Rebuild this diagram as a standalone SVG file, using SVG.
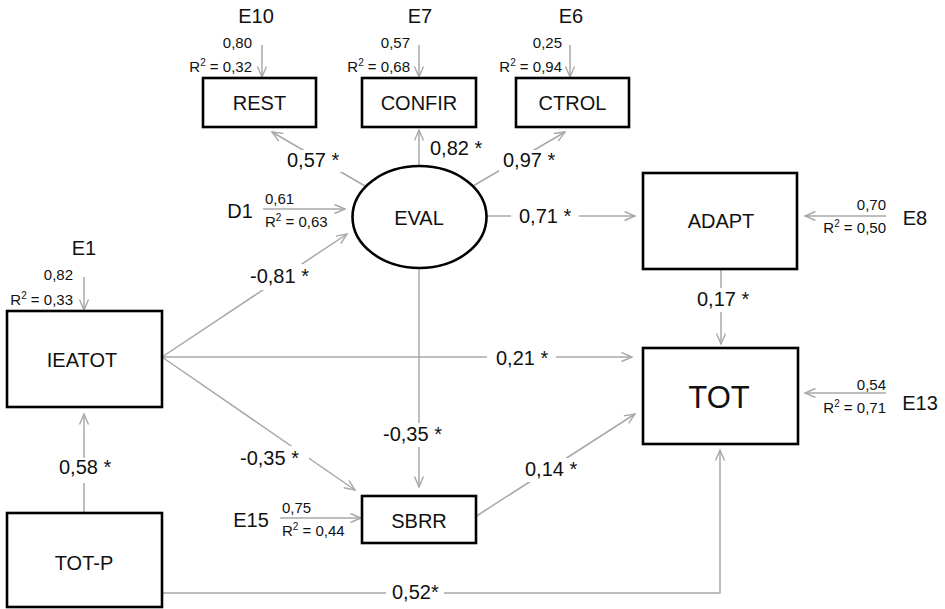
<svg xmlns="http://www.w3.org/2000/svg" width="945" height="609" viewBox="0 0 945 609">
<defs>
<marker id="ah" markerUnits="userSpaceOnUse" markerWidth="14" markerHeight="12" refX="11" refY="5" orient="auto">
<path d="M0.5,0.5 L11,5 L0.5,9.5" fill="none" stroke="#a8a8a8" stroke-width="1.4"/>
</marker>
<style>
.c{stroke:#a8a8a8;stroke-width:1.5;fill:none}
.a{marker-end:url(#ah)}
.n{fill:#fff;stroke:#000;stroke-width:2.6}
text{font-family:"Liberation Sans",Arial,sans-serif;fill:#111}
.t{font-size:20px;text-anchor:middle}
.l{font-size:20px}
.s{font-size:15px}
.e{text-anchor:end}
.bg{fill:#fff}
</style>
</defs>
<rect width="945" height="609" fill="#fff"/>
<g id="connectors">
<line class="c a" x1="262" y1="45" x2="262" y2="77"/>
<line class="c a" x1="419" y1="45" x2="419" y2="77"/>
<line class="c a" x1="570" y1="45" x2="570" y2="77"/>
<line class="c a" x1="84" y1="277" x2="84" y2="310"/>
<line class="c a" x1="365" y1="186" x2="272" y2="132"/>
<line class="c a" x1="419" y1="166" x2="419" y2="130"/>
<line class="c a" x1="473" y1="186" x2="565" y2="132"/>
<line class="c a" x1="263" y1="209" x2="345" y2="209"/>
<line class="c a" x1="162" y1="357" x2="347" y2="234"/>
<line class="c a" x1="487" y1="216" x2="635" y2="216"/>
<line class="c a" x1="886" y1="216" x2="805" y2="216"/>
<line class="c a" x1="721" y1="269" x2="721" y2="344"/>
<line class="c a" x1="886" y1="393" x2="805" y2="393"/>
<line class="c a" x1="162" y1="357" x2="632" y2="357"/>
<line class="c a" x1="162" y1="357" x2="355" y2="490"/>
<line class="c a" x1="419" y1="268" x2="419" y2="487"/>
<line class="c a" x1="280" y1="518" x2="361" y2="518"/>
<line class="c a" x1="475" y1="517" x2="635" y2="414"/>
<line class="c a" x1="84" y1="513" x2="84" y2="414"/>
<polyline class="c a" points="162,593 720,593 720,450"/>
</g>
<g id="coefficients">
<rect class="bg" x="283" y="150" width="61" height="22"/><text class="l" x="287" y="167">0,57 *</text>
<text class="l" x="430" y="155">0,82 *</text>
<rect class="bg" x="499" y="150" width="63" height="22"/><text class="l" x="503" y="167">0,97 *</text>
<rect class="bg" x="511" y="204" width="68" height="24"/><text class="l" x="519" y="223">0,71 *</text>
<rect class="bg" x="246" y="264" width="67" height="26"/><text class="l" x="250" y="283">-0,81 *</text>
<rect class="bg" x="487" y="347" width="69" height="23"/><text class="l" x="496" y="365">0,21 *</text>
<rect class="bg" x="693" y="288" width="63" height="24"/><text class="l" x="697" y="306">0,17 *</text>
<rect class="bg" x="236" y="446" width="73" height="25"/><text class="l" x="240" y="465">-0,35 *</text>
<rect class="bg" x="379" y="423" width="73" height="24"/><text class="l" x="383" y="441">-0,35 *</text>
<rect class="bg" x="521" y="458" width="62" height="24"/><text class="l" x="525" y="476">0,14 *</text>
<rect class="bg" x="55" y="458" width="62" height="25"/><text class="l" x="59" y="474">0,58 *</text>
<rect class="bg" x="386" y="581" width="58" height="23"/><text class="l" x="392" y="599">0,52*</text>
</g>
<g id="errors">
<text class="t" x="256" y="23">E10</text>
<text class="s e" x="252" y="48">0,80</text>
<text class="s e" x="252" y="72">R<tspan font-size="10" dy="-6">2</tspan><tspan dy="6"> = 0,32</tspan></text>
<text class="t" x="420" y="23">E7</text>
<text class="s e" x="410" y="48">0,57</text>
<text class="s e" x="410" y="72">R<tspan font-size="10" dy="-6">2</tspan><tspan dy="6"> = 0,68</tspan></text>
<text class="t" x="571" y="23">E6</text>
<text class="s e" x="562" y="48">0,25</text>
<text class="s e" x="562" y="72">R<tspan font-size="10" dy="-6">2</tspan><tspan dy="6"> = 0,94</tspan></text>
<text class="t" x="240" y="218">D1</text>
<text class="s" x="265" y="204">0,61</text>
<text class="s" x="265" y="227">R<tspan font-size="10" dy="-6">2</tspan><tspan dy="6"> = 0,63</tspan></text>
<text class="t" x="84" y="255">E1</text>
<text class="s e" x="73" y="280">0,82</text>
<text class="s e" x="73" y="305">R<tspan font-size="10" dy="-6">2</tspan><tspan dy="6"> = 0,33</tspan></text>
<text class="t" x="915" y="225">E8</text>
<text class="s e" x="886" y="210">0,70</text>
<text class="s e" x="886" y="233">R<tspan font-size="10" dy="-6">2</tspan><tspan dy="6"> = 0,50</tspan></text>
<text class="t" x="920" y="410">E13</text>
<text class="s e" x="886" y="390">0,54</text>
<text class="s e" x="886" y="413">R<tspan font-size="10" dy="-6">2</tspan><tspan dy="6"> = 0,71</tspan></text>
<text class="t" x="251" y="527">E15</text>
<text class="s" x="282" y="513">0,75</text>
<text class="s" x="282" y="536">R<tspan font-size="10" dy="-6">2</tspan><tspan dy="6"> = 0,44</tspan></text>
</g>
<g id="REST"><rect class="n" x="203" y="78" width="113" height="49"/><text class="t" x="259.5" y="110">REST</text></g>
<g id="CONFIR"><rect class="n" x="362" y="78" width="114" height="49"/><text class="t" x="419" y="110">CONFIR</text></g>
<g id="CTROL"><rect class="n" x="516" y="78" width="113" height="49"/><text class="t" x="572.5" y="110">CTROL</text></g>
<g id="EVAL"><ellipse class="n" cx="419.5" cy="217" rx="67" ry="51"/><text class="t" x="419" y="225">EVAL</text></g>
<g id="ADAPT"><rect class="n" x="643" y="173" width="154" height="96"/><text class="t" x="721" y="228">ADAPT</text></g>
<g id="TOT"><rect class="n" x="643" y="348" width="155" height="96"/><text class="t" x="719" y="408" style="font-size:31px">TOT</text></g>
<g id="IEATOT"><rect class="n" x="7" y="311" width="155" height="96"/><text class="t" x="82" y="367">IEATOT</text></g>
<g id="SBRR"><rect class="n" x="362" y="496" width="114" height="47"/><text class="t" x="419" y="528">SBRR</text></g>
<g id="TOT-P"><rect class="n" x="7" y="513" width="155" height="94"/><text class="t" x="84" y="570">TOT-P</text></g>
</svg>
